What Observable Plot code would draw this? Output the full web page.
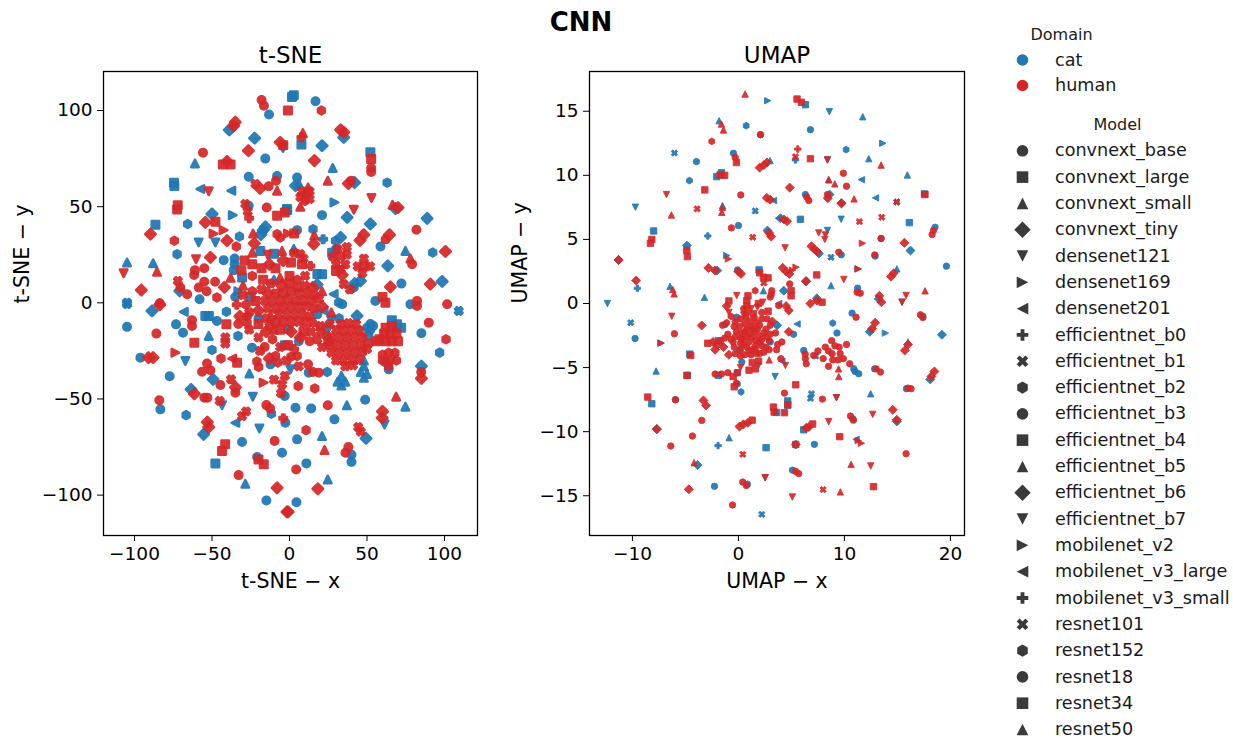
<!DOCTYPE html>
<html><head><meta charset="utf-8">
<script src="https://cdn.jsdelivr.net/npm/d3@7"></script>
<script src="https://cdn.jsdelivr.net/npm/@observablehq/plot@0.6"></script>
<style>
html,body{margin:0;padding:0;background:#fff;width:1233px;height:738px;overflow:hidden;font-family:"DejaVu Sans",sans-serif}
#title{position:absolute;left:0;width:1162px;top:7px;text-align:center;font-weight:bold;font-size:26px;color:#000}
.p{position:absolute}
.p svg{display:block;background:transparent}
</style></head><body>
<div id="p1" class="p" style="left:0;top:0"></div>
<div id="p2" class="p" style="left:490px;top:0"></div>
<div id="l1" class="p" style="left:1000px;top:20px"></div>
<div id="l2" class="p" style="left:1000px;top:110px"></div>
<div id="title">CNN</div>
<script>
const domains = ["cat", "human"];
const domainColors = ["#1f77b4", "#d62728"];
const models = ["convnext_base","convnext_large","convnext_small","convnext_tiny","densenet121","densenet169","densenet201","efficientnet_b0","efficientnet_b1","efficientnet_b2","efficientnet_b3","efficientnet_b4","efficientnet_b5","efficientnet_b6","efficientnet_b7","mobilenet_v2","mobilenet_v3_large","mobilenet_v3_small","resnet101","resnet152","resnet18","resnet34","resnet50"];

// [x, y, model index]
const tsneCat = [[-13.2,97.9,0],[1.6,107,1],[2.8,108,1],[-38.8,89.9,3],[-22.5,85.6,3],[-4.2,80.5,4],[-61,72.5,2],[-15.6,75,0],[-74.3,60.7,1],[-74.5,62.5,1],[-57.5,59.2,6],[-37.5,58.3,6],[-26.3,65.6,0],[-8,66,0],[-86.5,40.6,1],[-65.7,41,9],[-50,46.2,3],[-36.6,45.6,5],[-26.3,50.5,0],[-17,37.8,3],[-18.5,35.5,3],[-15.5,39.5,3],[-1.6,48.8,1],[-32.3,34.5,9],[-58.6,31.4,4],[-72.5,25.3,9],[-47.8,31.4,4],[-42.5,22.2,0],[-35.4,20.1,0],[-35.4,23,0],[-36,17,0],[-104.8,21,2],[-88,20.6,2],[-104.8,.1,8],[-70.8,6.2,3],[-58,1.9,0],[-18.8,27,1],[-10,25.5,1],[-30.6,13.2,1],[-35,3,0],[-25,3,1],
[16.8,104.8,0],[35,86,3],[7.7,82.3,1],[21,81.7,3],[52.2,78.3,1],[27.9,70.1,2],[42,62.5,3],[63,62.5,9],[4.9,65.2,0],[3.9,60.9,3],[6,62,2],[29,52.2,5],[37.2,44.4,3],[68.4,49,3],[21,45.6,0],[-1.5,48.2,1],[88.8,43.9,3],[52.2,41,3],[58.7,29.3,0],[4.9,37.8,0],[15.2,38.3,9],[21.7,33.1,7],[29.7,32.3,9],[33,34,3],[27.5,26,1],[30,28,0],[2.8,28,2],[74.8,27,2],[92.4,26.2,9],[63.4,19.2,3],[72.2,10,0],[98.5,11.1,3],[45.8,11.4,3],[42,10,3],[21,14.9,1],[18,15,1],[17.8,9.5,3],[41.5,8,0],[55.4,1,0],[78,-.7,0],[31.8,.1,9],[28.5,4.5,6],[109.2,-4.2,8],
[-104.8,-12.5,0],[-96.2,-28.5,0],[-67.2,-30.2,4],[-77.3,-38.2,0],[-83.3,-55.4,0],[-66.7,-58.4,9],[-63.5,-45,3],[-73.2,-11.2,0],[-68.7,-15.5,0],[-68.2,-4.7,6],[-54.3,-6.8,1],[-52,-6.8,1],[-40.7,-4.6,9],[-46.8,-9.4,0],[-52.1,-17.2,2],[-33.2,-17.2,9],[-50,-24.5,9],[-24.2,-23.3,0],[-25.9,-36.8,2],[-49.3,-39.8,3],[-23.7,-48.8,4],[-43.5,-53.2,4],[-11.7,-57.7,9],[-2.7,-62.4,0],[-34.9,-62.4,6],[-19.4,-65.3,4],[-55.4,-68.4,3],[-30.6,-72.4,0],[-4.8,-78,0],[-47.8,-83.5,1],[-20.9,-80.2,0],[-28.5,-94.1,2],[-14.9,-102.8,0],[-12.3,-32,0],[-3.1,-48.5,0],[-88.7,-4.2,3],[-104.8,-.7,8],
[43.6,-6.8,3],[52.2,-11,0],[52.2,-14,0],[51,-17,0],[54,-12,0],[50,-13,0],[69.4,-11.2,1],[66,-9,1],[72,-13,1],[48,-30,2],[48,-33,2],[46,-36,2],[50,-37,2],[48,-39,2],[33.5,-38,2],[36,-41,2],[31,-41,2],[33.5,-43,2],[64,-34.6,0],[62,-31,0],[85.1,-15.8,0],[96.9,-25.9,9],[85.1,-32.9,3],[74.8,-54,2],[48.8,-50.4,0],[37,-53.3,2],[3.9,-54.6,0],[14,-54.9,0],[29,-60.6,0],[61.3,-63.2,4],[49.4,-70.5,3],[4.9,-71,0],[21,-69.3,2],[40,-82.8,0],[40,-79,0],[10.9,-83.5,0],[24.7,-91.9,2],[4.5,-103.7,0],[.6,-34.6,4],[12.4,-36.3,0],[24.3,-36,9],[34,-.7,0],[-3,-22,1],[18,-6,0],[22,-4,6],[6,-20,0],[-1,-14,9],[24,-13,0],[27,-9,4],[32,-8,9],[-20,-8,0],[-33,6,5],[-10,12,2]];

const tsneHuman = [[-18,105.5,0],[-16.5,102.5,0],[-1,100,1],[-35,94,3],[-36,92,3],[-6,83.5,3],[-4,82,1],[-26.5,79.1,3],[-55.8,78.1,0],[-40.3,73.6,3],[-43,72,1],[-38,72,1],[-52.1,58,4],[-22,61.8,8],[-19,59.5,3],[-13.4,60.6,0],[-8.7,63.5,0],[-8,58.3,2],[-72.1,50.8,1],[-72.5,48.5,1],[-89.7,35.7,3],[-54.3,41.8,3],[-47.8,42.2,1],[-28.5,51.4,8],[-27,47.5,8],[-26,44,7],[-14.7,49.6,0],[-8,45.3,1],[-3,47,1],[-8,35.7,9],[-6,34,9],[-42.5,37.8,5],[-49,36,5],[-34.3,29.3,9],[-22.7,30.9,3],[-23.5,36,2],[-40.3,32.3,3],[-74.3,32.3,9],[-60.3,22.7,4],[-51,23.6,3],[-4.8,27,2],[-107,15.4,4],[-85.5,16.1,2],[-95.6,6.6,3],[-83.7,-.2,0],[-72,11.4,8],[-70.4,7.9,0],[-66,4.5,0],[-55,18,0],[-61,17,0],[-61.5,14.5,0],[-55,11,0],[-58.5,8,0],[-53.5,6,0],[-46.8,2.8,9],[-42,8,3],[-48,11,0],[-38,13,2],[-30,9,2],
[8.6,88.3,2],[20.6,100,9],[35,88.7,3],[33,90,3],[7.7,86,7],[52.7,74.8,1],[52.7,70.1,0],[52.7,68,0],[16.1,74,3],[24.7,63.5,2],[39.8,63.5,0],[38,62,3],[10.7,56.6,9],[8,58,8],[13,58,8],[10,53,9],[13,54,8],[7,55,8],[12,60,2],[7,50,2],[52.9,54.5,4],[41.5,48.4,4],[66.5,51,2],[70,49.5,3],[81.9,38,0],[47.9,35.4,3],[45.5,32.5,3],[64.5,35.4,3],[62,33,0],[7,25.3,8],[3,26,8],[9,23,8],[15.7,30.5,3],[-1,36,5],[3,36,1],[16,35,2],[28,24,8],[33,24,8],[37,25,8],[30,20,8],[36,20,8],[33,17.5,8],[31,28,8],[37,29,8],[48,19.2,8],[44,19,8],[52,19,8],[47,15.5,8],[48,23,8],[79.1,20.1,0],[78,23,2],[100.6,26.7,3],[65.1,8.3,3],[90.9,9.7,3],[35,9.7,8],[39,7,8],[30,16.6,1],[34,14.5,3],[13.5,19.2,7],[10,14,8],[61.9,.1,1],[60,3,1],[82.3,1,0],[101.7,-.7,0],
[-85.9,-16,0],[-91,-28.5,3],[-88,-28.5,3],[-73.6,-25.9,5],[-84,-50.7,0],[-61.4,-47.3,3],[-54.9,-49.3,0],[-53,-49.3,0],[-62.9,-12,0],[-62.9,-9,0],[-61.4,-20.7,1],[-40.7,-11.2,1],[-27.4,-10.3,9],[-27.4,-7,9],[-41.4,-21.2,8],[-41.4,-18,8],[-44.2,-28.9,9],[-53.2,-31.6,0],[-33.8,-31.1,1],[-37,-29,6],[-19.9,-33.4,9],[-21,-30.5,9],[-56.4,-35.8,0],[-51,-35.1,0],[-44.6,-42.7,0],[-37.7,-39.8,8],[-34.9,-46.7,0],[-34.9,-44,3],[-14.9,-53.2,0],[-12.5,-55,0],[-30.6,-58.9,8],[-28,-56.5,8],[-45,-51,8],[-52.1,-64.6,3],[-53,-62,3],[-9.6,-71.9,0],[-43.5,-77.1,1],[-41.5,-73.5,1],[-16.6,-84,1],[-20,-81.5,1],[-32.8,-89.6,0],[-8,-96.2,3],[-1.6,-108.7,3],[-9.1,-27.6,9],[-7.5,-31,9],[-16.7,-41.5,5],[-4.8,-42.4,8],[-5.5,-47,8],[-83.7,-1,3],[-4,-60,7],
[89.9,-10.3,0],[101,-19,9],[85.1,-39.3,3],[85,-36,0],[68.8,-48.8,2],[24.7,-53.3,0],[5.6,-43.3,9],[16.3,-44.5,9],[59.8,-59.8,3],[60,-56.5,3],[44.3,-64.6,8],[46,-67,8],[10.7,-66.2,9],[22.6,-76.6,2],[36.1,-78,0],[38,-75,0],[4.3,-86.7,0],[18.3,-96.7,3],[-.9,-108.7,3],[4.9,-27.6,9],[1,-28,9],[12,-32,0],[18.9,-36.3,0],[15,-36,0],[82.3,-1.6,0],[61,-16,1],[65,-16,1],[69,-16,1],[58,-19,1],[62,-20,1],[66,-20,1],[70,-20,1],[56,-20,1],[62,-13,1],[66,-12,1],[60,-27,9],[64,-26,9],[68,-26,9],[60,-30,9],[65,-30,9],[69,-30,9],[64,-33,9],
// large cluster
[33,-11,8],[38,-10.5,8],[43,-11,8],[30,-14,8],[35,-14.5,8],[40,-14,8],[45,-14.5,8],[27,-18,8],[32,-18,8],[37,-18,8],[42,-18,8],[47,-18,8],[26,-22,8],[31,-22,8],[36,-22,8],[41,-22,8],[46,-22,8],[51,-21,8],[27,-26,8],[32,-26,8],[37,-26,8],[42,-26,8],[47,-25.5,8],[50,-24,8],[30,-30,8],[35,-30,8],[40,-30,8],[45,-29.5,8],[36,-33,8],[41,-32.5,8],
// central mass
[-6,13,2],[0,14,1],[5,12,9],[-12,10,0],[-5,9,3],[0,10,1],[5,8,8],[10,9,8],[15,8,3],[-14,5,3],[-9,5,8],[-4,5,1],[1,6,8],[6,5,8],[11,5,8],[16,4,8],[21,6,2],[-16,1,8],[-11,1,8],[-6,1,8],[-1,2,8],[4,1,8],[9,1,8],[14,1,8],[19,2,8],[-14,-3,8],[-9,-3,8],[-4,-2,8],[1,-2,8],[6,-2,8],[11,-2,8],[16,-3,8],[21,-2,3],[-12,-7,2],[-7,-6,8],[-2,-6,8],[3,-6,8],[8,-6,8],[13,-7,8],[-9,-10,3],[-4,-10,8],[1,-10,8],[6,-10,8],[11,-10,1],[16,-10,2],[-13,-12,8],[-6,-14,1],[1,-15,3],[9,-15,1],[14,-15,8],[20,-15,8],[24,-17,8],[18,-19,8],[13,-20,0],[7,-18,3],
// scatter around centre
[-29,22,1],[-24,20,1],[-18,18,1],[-13,20,3],[-9,18,1],[-24,26,2],[-14,25,4],[-4,22,3],[1,21,1],[8,20,1],[-31,17,1],[-24,14,9],[-17,12,1],[-30,4,8],[-24,6,9],[-18,7,8],[-22,1,1],[-28,-1,9],[-34,-1,7],[-20,-4,3],[-26,-5,8],[-32,-7,3],[-15,-8,8],[-20,-11,1],[-26,-14,8],[-33,-11,0],[-15,-15,3],[-20,-18,8],[-11,-19,9],[-16,-23,0],[-6,-23,8],[-10,-14,2],[-1,-22,1],[-19,-25,8],[-13,-29,3],[3,-24,7],[-2,-30,8],[6,-33,8],[21,-23,8],[25,-20,1],[20,-12,8],[26,-11,8],[27,-5,2],[-3,-38,8],[-10,-40,8]];

const umapCat = [[2.77,15.82,5],[-1.82,14.26,2],[.73,13.87,9],[2.08,13.17,0],[-6.04,11.74,8],[-.47,11.72,0],[2.99,11.15,2],[-3.96,11.07,0],[-2.04,9.9,1],[-1.6,10.2,1],[-4.62,9.59,9],[3.3,8.03,6],[-9.72,7.51,4],[-1.5,7.64,2],[1.58,7.22,8],[3.78,6.65,6],[0,6.08,0],[-2.89,5.27,7],[2.74,5.69,3],[-8,5.66,1],[-4.87,4.52,3],[-1.1,3.74,5],[-11.32,3.4,3],[-2,2.57,3],[-.09,2.62,0],[1.95,2.62,1],[-9.53,1.19,7],[-6.45,1.35,2],[-3.2,.49,2],[-12.36,0,4],[2.36,1,2],
[6.32,15.51,1],[8.58,14.96,4],[11.73,14.57,2],[6.79,13.56,0],[10.16,12,9],[13.62,12.5,5],[5.38,11.2,7],[8.4,11.2,4],[12.3,11.3,2],[15.94,10.03,2],[8.52,9.66,2],[11.6,9.66,6],[6.32,8.5,0],[8.6,8.5,3],[12.93,8.24,6],[9.72,7.82,3],[14.94,7.92,8],[17.55,8.55,1],[3.96,6.65,3],[5.85,6.57,1],[9.69,6.57,4],[16.13,6.31,1],[18.55,5.95,0],[8.4,5.7,4],[13.46,5.07,0],[7.6,3.9,3],[9.7,3.8,0],[16.23,4.13,3],[8.74,3.61,8],[12.9,3.7,0],[19.62,2.91,0],[11.29,2.7,5],[14.95,2.7,2],[6.38,1.74,3],[8.74,1.4,2],[11.25,1.2,0],[13.24,.36,3],[15.44,.1,4],[4.28,1,3],[3.8,0,6],[7.4,.4,3],
[-10.16,-1.5,8],[-9.75,-2.73,0],[-7.3,-3.09,5],[-1.26,-1.64,0],[-.16,-1.07,0],[-1.9,-2.9,1],[-4.6,-3.95,1],[-7.77,-5.27,2],[-4.84,-5.61,1],[-8.17,-7.82,1],[-5.94,-7.51,0],[-.88,-10.47,2],[-1.92,-11.09,7],[2.61,-11.25,1],[-3.85,-12.6,3],[2.52,-13.59,4],[.85,-14.1,0],[-2.26,-14.26,0],[-7.7,-9.8,3],[2.2,-16.45,8],[3.6,-8.5,1],[3.46,-5.7,4],[.25,-6.9,9],[-.1,-6.3,9],[.32,-4.57,0],[-.1,-5.4,1],[1.9,-4.83,4],[-1.9,-5.6,1],[3,-3,0],[.1,-3.6,0],
[8.9,-1.53,9],[10.72,-.75,0],[12.4,-2.2,3],[13.87,-2.31,5],[19.2,-2.44,3],[17.4,-1,0],[16,-3,2],[9.3,-2.3,0],[6.16,-3.66,0],[10.88,-5.09,0],[11.35,-5.48,0],[11,-5.3,0],[12.85,-5.1,0],[18.1,-5.92,3],[15.85,-6.65,0],[12.48,-7.04,2],[6.89,-7.04,8],[6.8,-7.4,8],[9.25,-7.35,4],[4.65,-7.6,1],[4.65,-7.95,1],[10.8,-9,0],[14.95,-9.2,3],[6.16,-9.85,1],[11.1,-10.6,6],[7.17,-10.99,0],[5.41,-11,3],[5.1,-13,0],[5.53,-1.6,6],[5.2,-2.4,0],[3.65,-1.7,3],[4.1,-4.5,6],[7.3,-4.1,8]];

const umapHuman = [[.63,16.34,2],[-1.41,13.54,2],[-1.6,14,2],[2.08,13.17,0],[-2.51,12.65,9],[-.19,11,1],[-.3,11.4,0],[2,10.6,3],[2.4,10.8,3],[2.7,11,3],[-1.73,10.03,1],[-1.3,10,1],[-3.17,8.86,1],[-6.79,8.5,4],[.22,8.47,0],[2.68,8.24,3],[3,8.1,3],[-3.9,7.38,8],[-1.57,7.12,2],[-1.5,7.5,2],[-6.32,6.91,2],[-.66,5.9,0],[1.35,5.17,8],[3.09,5.22,3],[2.9,5.5,3],[-8.17,5,1],[-8.3,4.7,1],[-4.87,4.13,1],[-4.81,3.66,1],[-.94,3.48,5],[-11.3,3.4,3],[-2.83,2.78,3],[-2.2,2.57,3],[.25,2.31,3],[0,2.5,3],[2.36,2.05,1],[2,2.4,1],[2.8,2,1],[2.4,1.6,8],[-9.65,1.79,3],[-6.07,.75,2],[-6.2,1.1,2],[-.16,.62,4],[.79,.23,1],[1.58,1,9],[3.15,1,0],[3,.5,0],[3.1,.7,0],[1.89,0,1],[.9,.6,1],[.8,-.2,1],
[5.53,15.95,1],[5.94,15.7,1],[5.6,12.05,7],[5.38,11.45,8],[6.79,11.3,1],[8.4,11.2,4],[13.46,10.8,2],[9.9,10.16,0],[8.52,9.66,2],[9.09,9.33,2],[10.2,9.15,0],[4.84,9.04,3],[6.64,8.03,0],[6.45,8.3,0],[8.43,8.21,3],[8.4,8.5,0],[10.91,8.16,2],[14.94,7.92,8],[9.72,7.82,3],[17.6,8.5,1],[4.3,6.55,3],[4.59,6.42,3],[11.42,6.39,8],[13.52,6.73,8],[18.27,5.38,0],[18.4,5.7,0],[7.58,5.5,4],[8.21,5.35,4],[8.15,5,4],[13.46,5.07,0],[4.4,4.34,4],[6.89,4.47,3],[7.15,4.25,3],[7.42,4.05,3],[9.47,4,0],[11.7,4.7,5],[12.86,3.79,0],[15.66,4.73,3],[4.18,2.78,3],[4.5,2.5,3],[4.81,2.31,3],[5.44,2.83,5],[5.1,2.6,5],[4.84,1.53,0],[4.97,1,1],[4.97,.6,1],[11.29,2.7,5],[14.65,2.36,3],[14.4,2.1,3],[7.39,2.23,1],[6.38,1.74,3],[9.94,1.87,4],[11.2,.88,0],[11.5,.8,0],[17.61,.99,2],[15.82,.62,4],[13.49,.1,3],[13.3,.6,3],[15.44,.1,4],[7.42,.23,3],[7.89,.1,1],[6.79,0,3],
[-6.29,-1,4],[-3.46,-1.71,3],[-6.04,-2.36,0],[-7.3,-3.09,5],[-4.5,-4.05,1],[-4.84,-5.61,1],[-8.55,-7.3,1],[-5.94,-7.51,0],[-3.3,-7.56,3],[-3.05,-7.95,3],[-3.46,-9.12,0],[-7.7,-9.8,3],[-4.34,-10.34,0],[-6.38,-11.12,0],[.47,-9.43,3],[.1,-9.6,3],[.9,-9.3,3],[1.3,-9.1,1],[.41,-11.77,8],[-4.18,-12.42,2],[2.52,-13.59,4],[.41,-13.93,0],[.75,-14.2,0],[-4.68,-14.5,3],[-.56,-15.72,0],[3.3,-8.08,1],[3.37,-8.47,1],[4.34,-8.52,1],
// central mass
[1.3,-2.6,0],[.8,-2,0],[1.8,-2,0],[.4,-2.8,0],[1.1,-1.4,0],[2.2,-2.8,0],[1.6,-3.3,0],[.8,-3.4,0],[2.6,-2,0],[2.2,-1.2,0],[1.4,-.8,1],[.5,-.9,4],[1.8,-.3,4],[2.8,-.6,1],[3.2,-1.4,3],[2.9,-2.9,0],[3.5,-2.3,0],[-.2,-2.2,0],[-.5,-3,0],[-1,-2.4,0],[-1.7,-2.9,0],[-2.4,-3,3],[-2.9,-3.1,1],[-2.2,-3.6,3],[-1.4,-3.4,3],[-.3,-3.9,0],[-.9,-4,3],[.2,-4.1,0],[1.2,-4,0],[2,-3.9,0],[2.9,-3.6,0],[1.3,-4.6,1],[1.9,-4.5,1],[.5,-.4,0],[-.7,-1,9],[-1.1,-1.5,9],[-1.5,-1.7,0],[-.3,-1.4,0],[3.6,-3.6,0],[4,-4.3,0],[2.9,-4.4,2],[.2,-5,4],[-.1,-5.4,0],[-1.6,-5.5,0],[-2.2,-5.5,0],[-1,-5.4,0],[-.5,-5.7,1],[-.2,-6.2,9],[-.4,-6.5,1],[-1.1,-.2,3],[-.9,.2,1],[-.9,-.7,4],[2.3,.1,4],
[1.5,-2.2,0],[1,-2.4,0],[1.9,-2.5,0],[1.2,-1.8,0],[.6,-1.6,0],[1.7,-1.5,0],[.3,-2.3,0],[2.4,-2.3,0],[1,-3,0],[1.6,-2.9,0],[.5,-3.2,0],[2.2,-3.3,0],[1.3,-3.6,0],[.7,-1.1,0],[1.5,-1.1,0],[.1,-1.8,0],[-.3,-2.6,0],[-.7,-2.8,0],[-1.3,-2.7,0],[-2,-3.2,3],[3,-2.4,0],[3,-1.7,0],[2.7,-1.2,0],[1.2,-.4,4],[.2,-3.6,0],[.6,-4,0],[1.7,-3.9,0],[2.4,-3.8,0],[1,-5.2,1],[1.6,-5.1,1],
[.2,-1.2,0],[.8,-.7,0],[-.4,-1.8,0],[.2,-2.7,0],[-.4,-3.4,0],[.8,-2.6,0],[1.4,-2,0],[2,-1.7,0],[2,-3,0],[2.6,-2.6,0],[2.6,-3.4,0],[.6,-2.2,0],[.2,-3.1,0],[1,-3.7,0],[1.6,-3.6,0],[2.2,-.7,0],
// right cluster
[8.84,-3.92,0],[8.2,-3.4,0],[9.5,-3.4,0],[8,-4.3,0],[9.4,-4.4,0],[8.8,-2.9,0],[7.5,-3.7,0],[10.2,-3.2,0],[7.1,-4.05,0],[9.9,-4.3,0],[10.5,-4.7,0],[8.5,-4.9,0],[9.45,-5.1,2],[9.47,-5.7,2],[6.32,-4.3,0],[6.3,-3.95,0],[6.4,-4.7,0],[8.5,-3.7,0],[9.1,-3.3,0],[8.9,-4.4,0],[9.6,-3.9,0],[3.8,-.16,0],[4.75,-.55,3],[4.5,-.2,3],[4.75,-2.2,3],[4.1,-3,0],[4.43,-4.83,4],[3.7,-3.2,0],
[11.1,-1.07,0],[12.61,-1.97,3],[12.9,-1.5,3],[17.17,-.88,0],[17.4,-1.1,0],[15.7,-3.66,3],[16,-3.2,3],[13.4,-5.35,0],[13,-5.1,0],[18.49,-5.3,3],[18.2,-5.7,3],[16.29,-6.65,0],[16,-6.6,0],[5.41,-6.34,1],[4.34,-6.99,0],[7.92,-7.46,0],[9.25,-7.35,4],[4.65,-7.9,1],[14.56,-8.29,3],[14.94,-9.07,3],[10.57,-8.78,0],[10.85,-9.1,0],[12.67,-8.65,4],[8.52,-9.22,4],[6.64,-9.64,3],[6.4,-9.7,3],[7,-9.4,1],[9.56,-10.39,1],[11.6,-10.9,5],[11.3,-10.7,5],[5.41,-11,1],[15.82,-11.72,0],[10.63,-12.55,2],[12.48,-12.68,4],[5.69,-13.27,0],[5.4,-13.1,0],[7.99,-14.52,8],[9.62,-14.7,2],[12.74,-14.29,1],[5.09,-15.1,4]];

const tri = (pts) => ({draw(c, size){const r=Math.sqrt(size/Math.PI); pts.forEach((p,i)=>i?c.lineTo(p[0]*r,p[1]*r):c.moveTo(p[0]*r,p[1]*r)); c.closePath();}});
const hexPts = d3.range(6).map(i=>[1.05*Math.sin(i*Math.PI/3),1.05*Math.cos(i*Math.PI/3)]);
const shapes = [
  {draw(c,size){const r=Math.sqrt(size/Math.PI); c.moveTo(r,0); c.arc(0,0,r,0,2*Math.PI);}},
  tri([[-1,-1],[1,-1],[1,1],[-1,1]]),
  tri([[0,-1],[1,1],[-1,1]]),
  tri([[0,-1.41],[1.41,0],[0,1.41],[-1.41,0]]),
  tri([[0,1],[1,-1],[-1,-1]]),
  tri([[1,0],[-1,1],[-1,-1]]),
  tri([[-1,0],[1,-1],[1,1]]),
  tri([[-.33,-1],[.33,-1],[.33,-.33],[1,-.33],[1,.33],[.33,.33],[.33,1],[-.33,1],[-.33,.33],[-1,.33],[-1,-.33],[-.33,-.33]]),
  tri([[-.5,-1],[0,-.5],[.5,-1],[1,-.5],[.5,0],[1,.5],[.5,1],[0,.5],[-.5,1],[-1,.5],[-.5,0],[-1,-.5]]),
  tri(hexPts)
];
const symbolScale = {domain: models, range: models.map((_, i) => shapes[i % 10])};
const font = {fontFamily: "DejaVu Sans", fontSize: "18.5px", color: "#000", background: "transparent"};

function panel(el, o){
  const dot = (rows, color) => Plot.dot(rows, {x: d=>d[0], y: d=>d[1], symbol: d=>models[d[2]], fill: color, stroke: color, strokeWidth: o.sw, strokeLinejoin: "round", opacity: .93, r: o.r});
  const chart = Plot.plot({
    width: o.width, height: 610, marginLeft: o.ml, marginRight: o.mr, marginTop: 71, marginBottom: 75,
    style: font, symbol: symbolScale,
    x: {domain: o.xd, label: null}, y: {domain: o.yd, label: null},
    marks: [
      dot(o.cat, domainColors[0]), dot(o.human, domainColors[1]),
      Plot.frame({stroke: "#000", strokeWidth: 1.3}),
      Plot.axisX({ticks: o.xt, tickSize: 6, tickPadding: 5, tickFormat: d=>String(d).replace("-","−"), label: null, fontSize: 18.5, stroke: "#000", fill: "#000"}),
      Plot.axisY({ticks: o.yt, tickSize: 6, tickPadding: 5, tickFormat: d=>String(d).replace("-","−"), label: null, fontSize: 18.5, stroke: "#000", fill: "#000"}),
      Plot.text([o.xl], {frameAnchor: "bottom", dy: 52, fontSize: 20.5, fill: "#000"}),
      Plot.text([o.yl], {frameAnchor: "left", dx: -o.ylo, rotate: -90, fontSize: 20.5, fill: "#000"}),
      Plot.text([o.title], {frameAnchor: "top", dy: -16, fontSize: 23, fill: "#000", lineAnchor: "middle"})
    ]
  });
  document.getElementById(el).appendChild(chart);
}
panel("p1", {width: 520, ml: 103, mr: 43, xd: [-120, 121.3], yd: [-121, 120.3], xt: [-100,-50,0,50,100], yt: [-100,-50,0,50,100], xl: "t-SNE − x", yl: "t-SNE − y", ylo: 81, title: "t-SNE", cat: tsneCat, human: tsneHuman, r: 3.7, sw: 2.6});
panel("p2", {width: 490, ml: 99, mr: 16, xd: [-14.05, 21.33], yd: [-18.1, 18.1], xt: [-10,0,10,20], yt: [-15,-10,-5,0,5,10,15], xl: "UMAP − x", yl: "UMAP − y", ylo: 69, title: "UMAP", cat: umapCat, human: umapHuman, r: 3.2, sw: .9});

function legend(el, title, rows, colorOf, height, titleDx){
  const all = [title, ...rows];
  const chart = Plot.plot({
    width: 233, height, margin: 0, marginTop: 14, marginBottom: 9,
    style: {fontFamily: "DejaVu Sans", fontSize: "17px", background: "transparent"},
    symbol: symbolScale,
    y: {domain: all, type: "point", padding: 0, round: false, axis: null},
    marks: [
      Plot.dot(rows, {y: d=>d, frameAnchor: "left", dx: 22, r: 5.8, fill: colorOf, symbol: d=>models.includes(d)?d:models[0]}),
      Plot.text(rows, {y: d=>d, text: d=>d, frameAnchor: "left", dx: 54.5, fontSize: 17.6, fill: "#1a1a1a", textAnchor: "start"}),
      Plot.text([title], {y: d=>d, text: d=>d, frameAnchor: "left", dx: titleDx, fontSize: 16, fill: "#1a1a1a", textAnchor: "middle"})
    ]
  });
  document.getElementById(el).appendChild(chart);
}
legend("l1", "Domain", domains, d=>domainColors[domains.indexOf(d)], 74, 61);
legend("l2", "Model", models, "#3a3a3a", 628, 117);
</script>
</body></html>
